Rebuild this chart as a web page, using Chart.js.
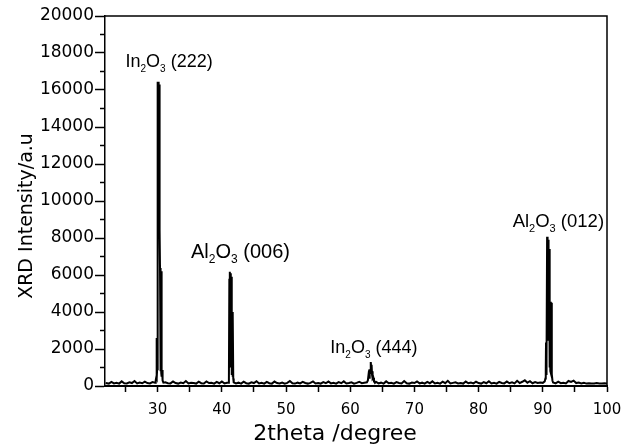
<!DOCTYPE html>
<html lang="en">
<head>
  <meta charset="UTF-8">
  <title>XRD pattern</title>
  <script src="https://cdn.jsdelivr.net/npm/chart.js"></script>
  <style>
    body {
      margin: 0;
      background-color: #ffffff;
    }
    canvas {
      display: block;
    }
  </style>
</head>
<body>
  <canvas id="xrdChart" width="624" height="445"></canvas>

  <script>
    // 2theta (degree) and intensity (a.u.)
    var twoTheta = [
      21.9, 22.4, 22.8, 23.2, 23.6, 24.0, 24.4, 24.8, 25.2, 25.6, 26.0, 26.4, 26.8, 27.2, 27.6, 28.0, 28.4, 28.8, 29.2,
      29.60, 29.70, 29.78, 29.83, 29.87, 29.92, 29.98, 30.03, 30.08, 30.13, 30.18, 30.23, 30.28, 30.33, 30.37, 30.40,
      30.44, 30.48, 30.52, 30.56, 30.60, 30.64, 30.69, 30.74, 30.80, 30.90,
      31.2, 31.6, 32.0, 32.4, 32.8, 33.2, 33.6, 34.0, 34.4, 34.8, 35.2, 35.6, 36.0, 36.4, 36.8, 37.2, 37.6, 38.0,
      38.4, 38.8, 39.2, 39.6, 40.0, 40.4, 40.8,
      41.00, 41.10, 41.17, 41.22, 41.27, 41.32, 41.37, 41.42, 41.47, 41.52, 41.57, 41.62, 41.67, 41.72, 41.78, 41.85,
      42.2, 42.6, 43.0, 43.4, 43.8, 44.2, 44.6, 45.0, 45.4, 45.8, 46.2, 46.6, 47.0, 47.4, 47.8, 48.2, 48.6, 49.0,
      49.4, 49.8, 50.2, 50.6, 51.0, 51.4, 51.8, 52.2, 52.6, 53.0, 53.4, 53.8, 54.2, 54.6, 55.0, 55.4, 55.8, 56.2,
      56.6, 57.0, 57.4, 57.8, 58.2, 58.6, 59.0, 59.4, 59.8, 60.2, 60.6, 61.0, 61.4, 61.8, 62.2,
      62.60, 62.75, 62.85, 62.95, 63.03, 63.10, 63.17, 63.23, 63.28, 63.33, 63.40, 63.46, 63.52, 63.60, 63.70, 63.85,
      64.0, 64.4, 64.8, 65.2, 65.6, 66.0, 66.4, 66.8, 67.2, 67.6, 68.0, 68.4, 68.8, 69.2, 69.6, 70.0, 70.4, 70.8,
      71.2, 71.6, 72.0, 72.4, 72.8, 73.2, 73.6, 74.0, 74.4, 74.8, 75.2, 75.6, 76.0, 76.4, 76.8, 77.2, 77.6, 78.0,
      78.4, 78.8, 79.2, 79.6, 80.0, 80.4, 80.8, 81.2, 81.6, 82.0, 82.4, 82.8, 83.2, 83.6, 84.0, 84.4, 84.8, 85.2,
      85.6, 86.0, 86.4, 86.8, 87.2, 87.6, 88.0, 88.4, 88.8, 89.2, 89.6, 90.0,
      90.30, 90.40, 90.46, 90.50, 90.54, 90.62, 90.67, 90.72, 90.77, 90.82, 90.87, 90.92, 90.97, 91.02, 91.07, 91.12,
      91.17, 91.22, 91.27, 91.32, 91.37, 91.43, 91.50, 91.60,
      92.0, 92.4, 92.8, 93.2, 93.6, 94.0, 94.4, 94.8, 95.2, 95.6, 96.0, 96.4, 96.8, 97.2, 97.6, 98.0, 98.4, 98.8,
      99.2, 99.6, 100.0
    ];
    var intensity = [
      160, 130, 220, 140, 170, 130, 250, 150, 140, 200, 160, 270, 140, 190, 150, 240, 160, 140, 210,
      180, 300, 450, 2600, 400, 900, 16450, 14500, 16450, 13500, 16400, 12000, 16300, 8430, 6380, 1000,
      6380, 800, 6300, 700, 6200, 500, 860, 600, 300, 180,
      200, 150, 140, 240, 160, 130, 190, 150, 270, 140, 180, 160, 130, 230, 150, 140, 250, 160,
      170, 130, 220, 150, 240, 140, 180,
      170, 300, 5800, 1000, 6180, 2000, 6100, 1500, 5900, 4020, 600, 4000, 500, 3900, 400, 200,
      140, 180, 130, 230, 150, 130, 200, 160, 260, 140, 170, 130, 220, 150, 130, 240, 160, 140,
      190, 130, 170, 270, 150, 130, 180, 140, 220, 160, 130, 170, 250, 140, 160, 130, 210, 150,
      240, 140, 170, 130, 210, 150, 250, 140, 160, 200, 130, 170, 230, 150, 180,
      200, 300, 600, 450, 900, 700, 1200, 1300, 900, 1150, 600, 800, 400, 450, 250, 170,
      230, 140, 180, 130, 250, 150, 170, 130, 210, 160, 140, 270, 150, 130, 190, 160, 240, 140,
      180, 130, 220, 150, 250, 140, 170, 130, 230, 150, 280, 140, 170, 200, 140, 160, 130, 240,
      150, 190, 140, 230, 160, 130, 210, 150, 260, 140, 170, 130, 220, 160, 140, 240, 150, 200,
      140, 280, 160, 230, 310, 180, 260, 150, 210, 160, 190, 170,
      250, 400, 800, 2350, 600, 1500, 8070, 3000, 7460, 2500, 7900, 3000, 7400, 5100, 1000, 4600,
      800, 4550, 700, 4500, 500, 650, 300, 190,
      140, 230, 150, 180, 140, 270, 220, 290, 160, 190, 140, 170, 130, 150, 140, 130, 160, 140,
      130, 150, 140
    ];

    // tick labels
    var xTickLabels = [30, 40, 50, 60, 70, 80, 90, 100];
    var yTickLabels = [0, 2000, 4000, 6000, 8000, 10000, 12000, 14000, 16000, 18000, 20000];

    // peak assignments, digits right after a letter are subscripts
    var peakLabels = ['In2O3 (222)', 'Al2O3 (006)', 'In2O3 (444)', 'Al2O3 (012)'];

    var xTitle = '2theta /degree';
    var yTitle = 'XRD Intensity/a.u';

    function drawFormula(ctx, text, x, y, size) {
      var pos = x;
      for (var i = 0; i < text.length; i++) {
        var ch = text[i];
        var sub = /[0-9]/.test(ch) && i > 0 && /[A-Za-z]/.test(text[i - 1]);
        if (sub) {
          ctx.font = Math.round(size * 0.58) + 'px "Liberation Sans", Arial, sans-serif';
          ctx.fillText(ch, pos, y + size * 0.28);
        } else {
          ctx.font = size + 'px "Liberation Sans", Arial, sans-serif';
          ctx.fillText(ch, pos, y);
        }
        pos += ctx.measureText(ch).width;
      }
    }

    var framePlugin = {
      id: 'frame',
      afterDraw: function (chart, args, opts) {
        var ctx = chart.ctx;
        var area = chart.chartArea;
        var xs = chart.scales.x;
        var ys = chart.scales.y;
        ctx.save();
        ctx.strokeStyle = '#000';
        ctx.fillStyle = '#000';
        ctx.lineWidth = 1.5;

        // top and right side of the box
        ctx.beginPath();
        ctx.moveTo(area.left, area.top);
        ctx.lineTo(area.right, area.top);
        ctx.lineTo(area.right, area.bottom);
        ctx.stroke();

        // minor y ticks between the labelled ones
        for (var v = 1000; v < 20000; v += 2000) {
          var py = ys.getPixelForValue(v);
          ctx.beginPath();
          ctx.moveTo(area.left - 5, py);
          ctx.lineTo(area.left, py);
          ctx.stroke();
        }

        // axis titles
        ctx.font = '22px "DejaVu Sans", sans-serif';
        ctx.textAlign = 'center';
        ctx.textBaseline = 'alphabetic';
        ctx.fillText(xTitle, 335, 440);

        ctx.save();
        ctx.translate(32, 216);
        ctx.rotate(-Math.PI / 2);
        ctx.font = '19px "DejaVu Sans", sans-serif';
        ctx.fillText(yTitle, 0, 0);
        ctx.restore();

        // peak labels
        ctx.textAlign = 'left';
        opts.anchors.forEach(function (a, i) {
          drawFormula(ctx, peakLabels[i], xs.getPixelForValue(a[0]), ys.getPixelForValue(a[1]), opts.sizes[i]);
        });
        ctx.restore();
      }
    };

    var ctx = document.getElementById('xrdChart').getContext('2d');

    var points = twoTheta.map(function (t, i) {
      return { x: t, y: intensity[i] };
    });

    var xrdChart = new Chart(ctx, {
      type: 'line',
      data: {
        datasets: [{
          label: 'XRD',
          data: points,
          borderColor: '#000',
          borderWidth: 2,
          pointRadius: 0,
          fill: false,
          tension: 0
        }]
      },
      options: {
        responsive: false,
        animation: false,
        layout: {
          padding: { left: 0, right: 17, top: 16, bottom: 0 }
        },
        plugins: {
          legend: { display: false },
          tooltip: { enabled: false },
          frame: {
            anchors: [[25.0, 17260], [35.2, 6935], [56.9, 1768], [85.3, 8611]],
            sizes: [18, 20, 18, 18.5]
          }
        },
        scales: {
          x: {
            type: 'linear',
            min: 21.8,
            max: 100,
            afterFit: function (s) {
              s.height = 59;
              s.paddingLeft = 0;
              s.paddingRight = 0;
            },
            border: { color: '#000', width: 2 },
            grid: { drawOnChartArea: false, tickLength: 6, tickColor: '#000', tickWidth: 1.5 },
            ticks: {
              stepSize: 5,
              includeBounds: false,
              autoSkip: false,
              maxRotation: 0,
              padding: 9,
              color: '#000',
              font: { family: 'DejaVu Sans', size: 15 },
              callback: function (v) { return xTickLabels.indexOf(v) >= 0 ? String(v) : ''; }
            }
          },
          y: {
            min: 0,
            max: 20000,
            afterFit: function (s) {
              s.width = 105;
              s.paddingTop = 0;
              s.paddingBottom = 0;
            },
            border: { color: '#000', width: 1.5 },
            grid: { drawOnChartArea: false, tickLength: 10, tickColor: '#000', tickWidth: 1.5 },
            ticks: {
              stepSize: 2000,
              padding: 1,
              color: '#000',
              font: { family: 'DejaVu Sans', size: 17 },
              callback: function (v) { return yTickLabels.indexOf(v) >= 0 ? String(v) : ''; }
            }
          }
        }
      },
      plugins: [framePlugin]
    });
  </script>
</body>
</html>
